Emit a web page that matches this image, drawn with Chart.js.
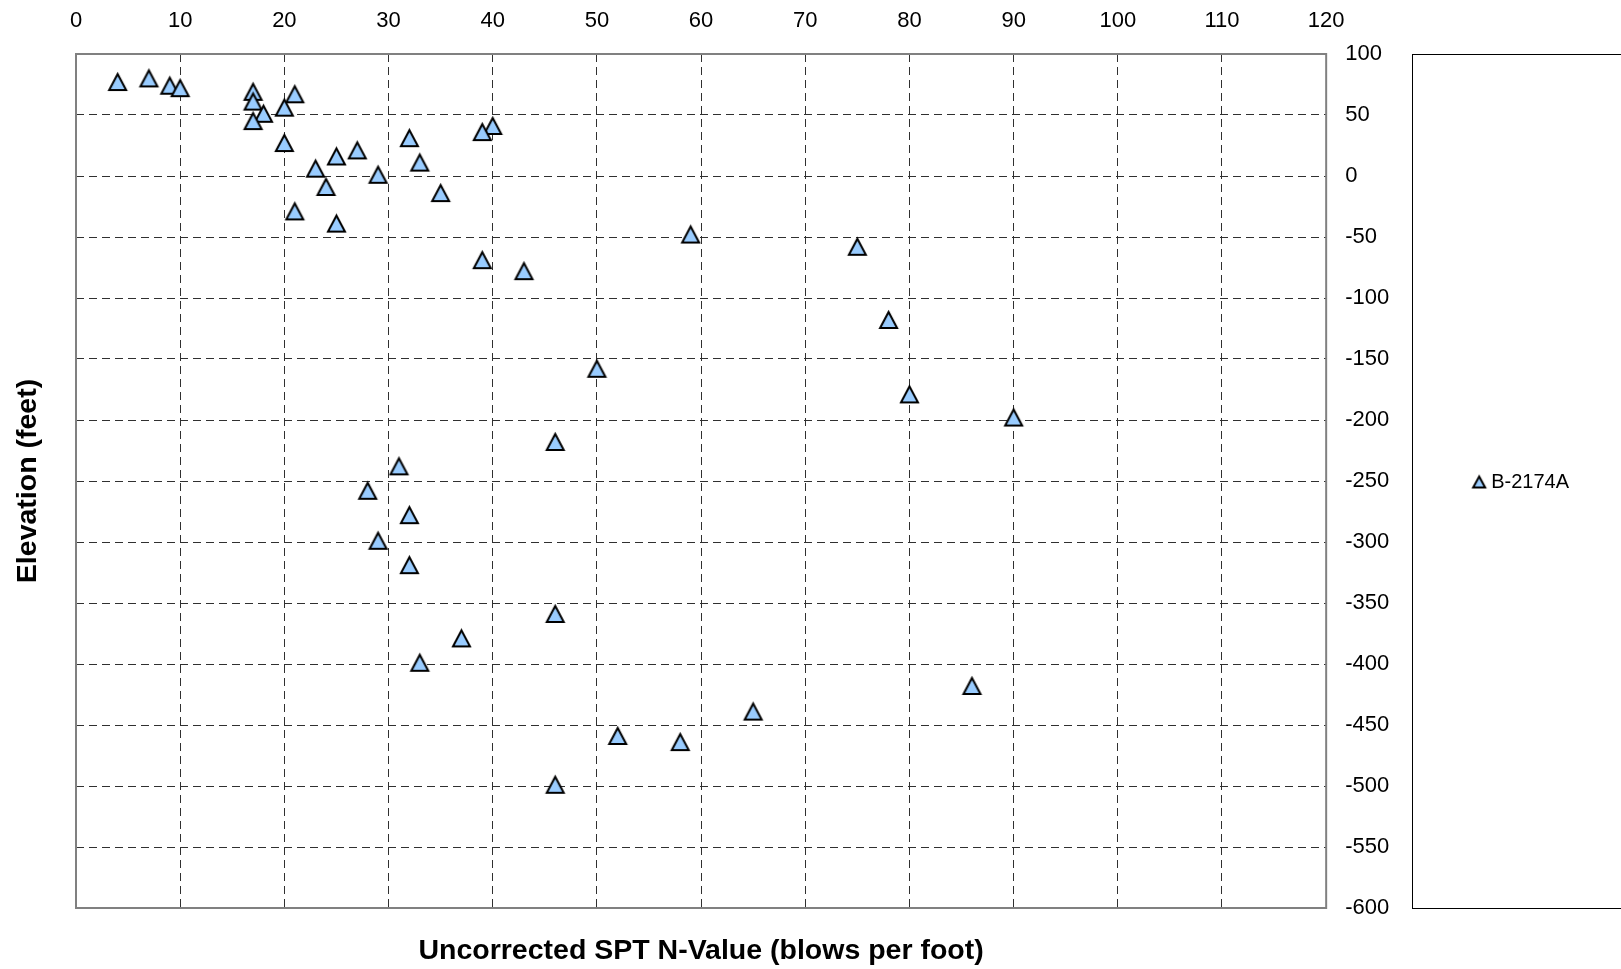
<!DOCTYPE html>
<html>
<head>
<meta charset="utf-8">
<title>B-2174A SPT N-Value vs Elevation</title>
<script src="https://cdn.jsdelivr.net/npm/chart.js@4.4.1/dist/chart.umd.min.js"></script>
<style>
  html, body { margin: 0; padding: 0; background: #ffffff; }
  #wrap { width: 1621px; height: 969px; }
  canvas { display: block; }
</style>
</head>
<body>
<div id="wrap"><canvas id="chart" width="1621" height="969"></canvas></div>
<script>
// Boring B-2174A: uncorrected SPT blow counts by sample elevation
const seriesName = 'B-2174A';
const elevationFt = [80, 77, 74, 72, 69, 67, 61, 56, 51, 45, 41, 36, 31, 27, 21, 16, 11, 6, 1, -9,
  -14, -29, -39, -48, -58, -69, -78, -118, -158, -179, -198, -218, -238, -258, -278, -299, -319,
  -359, -379, -399, -418, -439, -459, -464, -499];
const nValue = [7, 4, 9, 10, 17, 21, 17, 20, 18, 17, 40, 39, 32, 20, 27, 25, 33, 23, 29, 24,
  35, 21, 25, 59, 75, 39, 43, 78, 50, 80, 90, 46, 31, 28, 32, 29, 32,
  46, 37, 33, 86, 65, 52, 58, 46];
const xTickStep = 10;
const yTickStep = 50;
const xRange = [0, 120];
const yRange = [-600, 100];
const xTitle = 'Uncorrected SPT N-Value (blows per foot)';
const yTitle = 'Elevation (feet)';

const points = nValue.map((n, i) => ({ x: n, y: elevationFt[i] }));

// Triangle marker drawn once on a small canvas and reused as the point style
function triangleMarker(w, h, lw) {
  const pad = 4;
  const c = document.createElement('canvas');
  c.width = w + pad * 2;
  c.height = h + pad * 2;
  const g = c.getContext('2d');
  g.beginPath();
  g.moveTo(c.width / 2, pad);
  g.lineTo(pad + w, pad + h);
  g.lineTo(pad, pad + h);
  g.closePath();
  g.fillStyle = '#99CCFF';
  g.fill();
  g.lineWidth = lw;
  g.lineJoin = 'miter';
  g.strokeStyle = '#000000';
  g.stroke();
  return c;
}
const plotMarker = triangleMarker(17, 16, 2);
const legendMarker = triangleMarker(12, 11, 2);

Chart.defaults.font.family = '"Liberation Sans", Arial, Helvetica, sans-serif';
Chart.defaults.color = '#000000';

// Grey frame around the plot area and the tall legend frame on the right
const frames = {
  id: 'frames',
  beforeDatasetsDraw(chart) {
    const a = chart.chartArea;
    const ctx = chart.ctx;
    ctx.save();
    ctx.strokeStyle = '#808080';
    ctx.lineWidth = 2;
    ctx.strokeRect(a.left, a.top, a.right - a.left, a.bottom - a.top);
    ctx.strokeStyle = '#000000';
    ctx.lineWidth = 1;
    ctx.strokeRect(Math.round(a.right) + 86.5, Math.round(a.top) + 0.5, chart.width, a.bottom - a.top);
    ctx.restore();
  }
};

const gridDash = [8, 5];

new Chart(document.getElementById('chart'), {
  type: 'scatter',
  data: {
    datasets: [{
      label: seriesName,
      data: points,
      pointStyle: plotMarker,
      pointRadius: 9,
      pointHoverRadius: 9,
      showLine: false
    }]
  },
  options: {
    responsive: false,
    animation: false,
    events: [],
    layout: { padding: { top: 0, left: 0, right: 42, bottom: 5 } },
    plugins: {
      tooltip: { enabled: false },
      legend: {
        position: 'right',
        labels: {
          usePointStyle: true,
          pointStyle: legendMarker,
          boxWidth: 4,
          padding: 10,
          font: { size: 20 },
          color: '#000000'
        }
      }
    },
    scales: {
      x: {
        type: 'linear',
        position: 'top',
        min: xRange[0],
        max: xRange[1],
        ticks: { stepSize: xTickStep, font: { size: 22 }, padding: 20, color: '#000000' },
        grid: { color: '#303030', lineWidth: 1, drawTicks: false, borderDash: gridDash },
        border: { display: false, dash: gridDash },
        afterFit(scale) { scale.height = 54; }
      },
      x2: {
        type: 'linear',
        position: 'bottom',
        min: xRange[0],
        max: xRange[1],
        ticks: { display: false },
        grid: { display: false, drawTicks: false },
        border: { display: false },
        title: {
          display: true,
          text: xTitle,
          font: { size: 28.5, weight: 'bold', lineHeight: 1 },
          padding: { top: 0, bottom: -1 },
          color: '#000000'
        },
        afterFit(scale) { scale.height = 56; }
      },
      y: {
        type: 'linear',
        position: 'right',
        min: yRange[0],
        max: yRange[1],
        ticks: { stepSize: yTickStep, font: { size: 22 }, padding: 19, color: '#000000' },
        grid: { color: '#303030', lineWidth: 1, drawTicks: false, borderDash: gridDash },
        border: { display: false, dash: gridDash },
        afterFit(scale) { scale.width = 141; }
      },
      y2: {
        type: 'linear',
        position: 'left',
        min: yRange[0],
        max: yRange[1],
        ticks: { display: false },
        grid: { display: false, drawTicks: false },
        border: { display: false },
        title: {
          display: true,
          text: yTitle,
          font: { size: 28.5, weight: 'bold', lineHeight: 1 },
          padding: { top: 14, bottom: 0 },
          color: '#000000'
        },
        afterFit(scale) { scale.width = 76; }
      }
    }
  },
  plugins: [frames]
});
</script>
</body>
</html>
